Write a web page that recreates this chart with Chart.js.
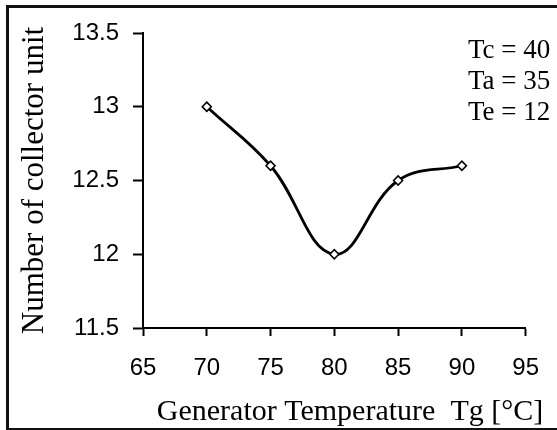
<!DOCTYPE html>
<html>
<head>
<meta charset="utf-8">
<script src="https://cdn.jsdelivr.net/npm/chart.js@4"></script>
<style>
  body { margin: 0; background: #fff; }
  #wrap { position: relative; width: 557px; height: 430px; overflow: hidden; }
  #frame { position: absolute; left: 6px; top: 5px; width: 620px; height: 420px; border: 3px solid #111; }
  canvas { position: absolute; left: 0; top: 0; }
</style>
</head>
<body>
<div id="wrap">
  <div id="frame"></div>
  <canvas id="myChart" width="557" height="430"></canvas>
</div>
<script>
// generator temperature vs number of collector units
const temps = [70, 75, 80, 85, 90];
const units = [13, 12.6, 12, 12.5, 12.6];
const notes = ["Tc = 40", "Ta = 35", "Te = 12"];
const xTitle = "Generator Temperature  Tg [°C]";
const yTitle = "Number of collector unit";

const serif = "'Liberation Serif', 'Times New Roman', serif";

// text block in the upper right corner + x title (wider than the plot area)
const notesPlugin = {
  id: "notes",
  afterDraw(chart) {
    const c = chart.ctx;
    c.save();
    c.fillStyle = "#000";
    c.font = "27px " + serif;
    c.textAlign = "left";
    c.textBaseline = "alphabetic";
    notes.forEach((t, i) => c.fillText(t, 468, 58 + i * 31));
    c.font = "30px " + serif;
    c.textAlign = "center";
    c.fillText(xTitle, 350, 420);
    c.restore();
  }
};

const ctx = document.getElementById("myChart").getContext("2d");

const myChart = new Chart(ctx, {
  type: "line",
  data: {
    datasets: [{
      data: temps.map((t, i) => ({ x: t, y: units[i] })),
      borderColor: "#000",
      borderWidth: 2.8,
      tension: 0.4,
      fill: false,
      pointStyle: "rectRot",
      pointRadius: 4.5,
      pointBackgroundColor: "#fff",
      pointBorderColor: "#000",
      pointBorderWidth: 1.6
    }]
  },
  options: {
    responsive: false,
    animation: false,
    layout: { padding: { left: 0, right: 29, top: 33, bottom: 0 } },
    plugins: {
      legend: { display: false },
      tooltip: { enabled: false }
    },
    scales: {
      x: {
        type: "linear",
        min: 65,
        max: 95,
        ticks: {
          stepSize: 5,
          color: "#000",
          padding: 18,
          font: { family: "'Liberation Sans', Arial, sans-serif", size: 24 }
        },
        grid: { display: true, drawOnChartArea: false, drawTicks: true, tickLength: 8, tickColor: "#000", tickWidth: 2 },
        border: { color: "#000", width: 2 },
        afterFit(s) { s.height = 102; }
      },
      y: {
        min: 11.5,
        max: 13.5,
        ticks: {
          stepSize: 0.5,
          color: "#000",
          padding: 14,
          callback: (v) => String(v),
          font: { family: "'Liberation Sans', Arial, sans-serif", size: 24 }
        },
        grid: { display: true, drawOnChartArea: false, drawTicks: true, tickLength: 10, tickColor: "#000", tickWidth: 2 },
        border: { color: "#000", width: 2 },
        title: {
          display: true,
          text: yTitle,
          color: "#000",
          padding: { top: 16, bottom: 0 },
          font: { family: serif, size: 31 }
        },
        afterFit(s) { s.width = 143; }
      }
    }
  },
  plugins: [notesPlugin]
});
</script>
</body>
</html>
